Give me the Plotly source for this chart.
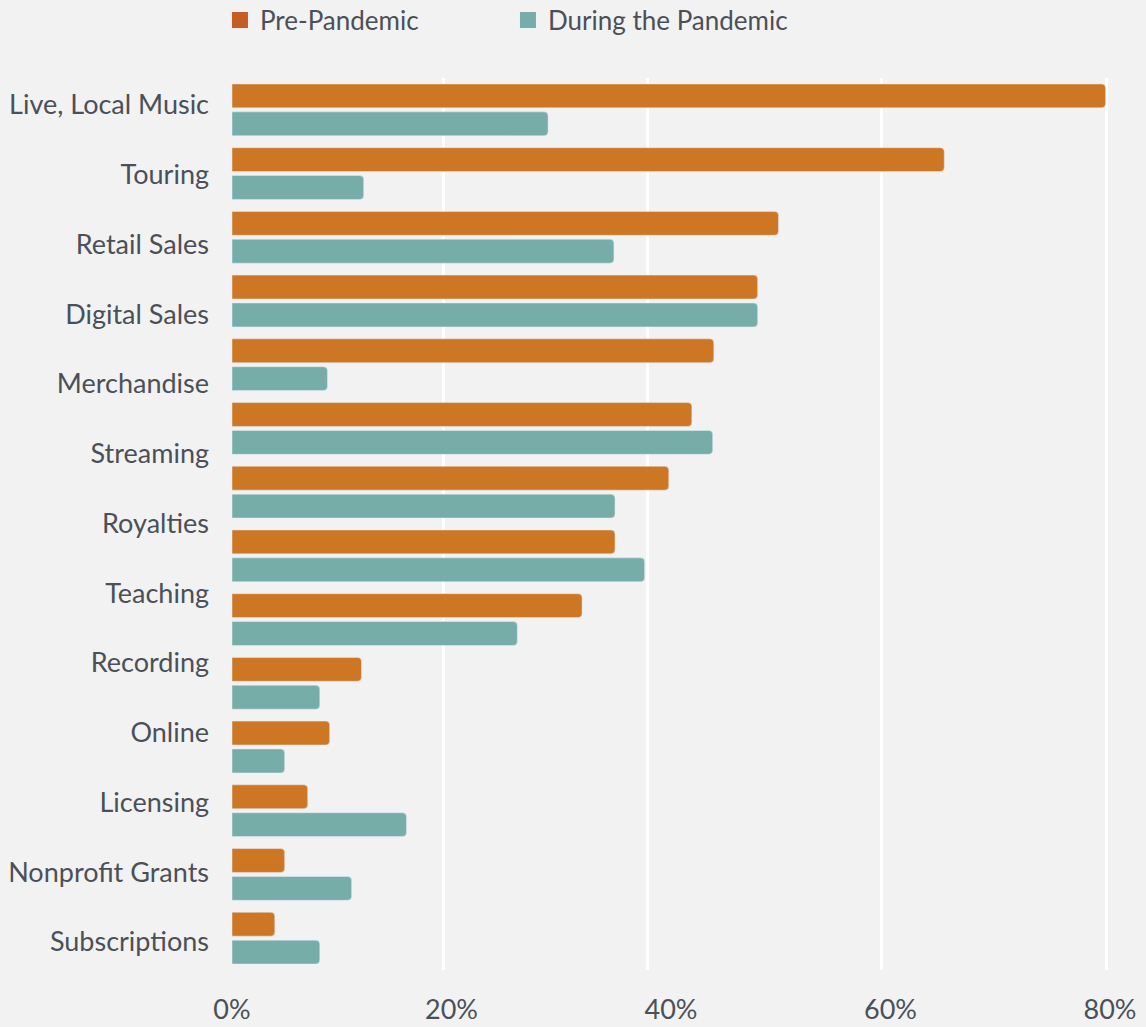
import plotly.graph_objects as go

# ---- data ----
labels = ["Live, Local Music", "Touring", "Retail Sales", "Digital Sales", "Merchandise",
          "Streaming", "Royalties", "Teaching", "Recording", "Online", "Licensing",
          "Nonprofit Grants", "Subscriptions"]
group_index = list(range(14))
pre_pandemic = [79.6, 64.9, 49.8, 47.9, 43.9, 41.9, 39.8, 34.9, 31.9, 11.8, 8.9, 6.9, 4.8, 3.9]
during_pandemic = [28.8, 12.0, 34.8, 47.9, 8.7, 43.8, 34.9, 37.6, 26.0, 8.0, 4.8, 15.9, 10.9, 8.0]
x_tick_vals = [0, 20, 40, 60, 80]
x_tick_text = ["0%", "20%", "40%", "60%", "80%"]
grid_vals = [0, 19.3, 37.9, 59.2, 79.7]

ORANGE = "#CD7724"
TEAL = "#76ADA8"
ORANGE_LEG = "#C45F24"
TEXT = "#4B5058"
BG = "#F2F2F2"
FONT = "Lato"

fig = go.Figure()
fig.add_trace(go.Bar(y=group_index, x=pre_pandemic, orientation="h", name="Pre-Pandemic",
                     marker=dict(color=ORANGE), showlegend=False))
fig.add_trace(go.Bar(y=group_index, x=during_pandemic, orientation="h", name="During the Pandemic",
                     marker=dict(color=TEAL), showlegend=False))
# legend entries
fig.add_trace(go.Scatter(x=[None], y=[None], mode="markers", name="Pre-Pandemic",
                         marker=dict(symbol="square", size=16, color=ORANGE_LEG)))
fig.add_trace(go.Scatter(x=[None], y=[None], mode="markers", name="During the Pandemic",
                         marker=dict(symbol="square", size=16, color=TEAL)))
# helper traces for label axes
fig.add_trace(go.Scatter(x=[None], y=[None], xaxis="x2", yaxis="y", showlegend=False, hoverinfo="skip"))
fig.add_trace(go.Scatter(x=[None], y=[None], xaxis="x", yaxis="y2", showlegend=False, hoverinfo="skip"))

fig.update_layout(
    width=1146, height=1027,
    margin=dict(l=232, r=36, t=78, b=57, autoexpand=False),
    paper_bgcolor=BG, plot_bgcolor=BG,
    font=dict(family=FONT, color=TEXT, size=22),
    barmode="group", bargap=0.125, bargroupgap=0.143,
    barcornerradius=4,
    showlegend=True,
    legend=dict(orientation="h", x=-0.0137, xanchor="left", y=1.065, yanchor="middle",
                font=dict(size=26, color=TEXT), entrywidth=243, entrywidthmode="pixels",
                bgcolor="rgba(0,0,0,0)"),
    xaxis=dict(range=[0, 80], tickvals=grid_vals, showticklabels=False, showgrid=True,
               gridcolor="white", gridwidth=3, zeroline=False, showline=False, fixedrange=True),
    xaxis2=dict(range=[0, 80], overlaying="x", side="bottom", tickvals=x_tick_vals,
                ticktext=x_tick_text, showgrid=False, zeroline=False, showline=False,
                tickfont=dict(size=27, color=TEXT), ticklabelstandoff=21),
    yaxis=dict(range=[13.5, -0.5], showticklabels=False, showgrid=False, zeroline=False),
    yaxis2=dict(range=[12.402, -0.387], overlaying="y", side="left",
                tickvals=list(range(len(labels))), ticktext=labels, showgrid=False,
                zeroline=False, tickfont=dict(size=27, color=TEXT), ticklabelstandoff=22),
)

fig.write_html("out.html")
